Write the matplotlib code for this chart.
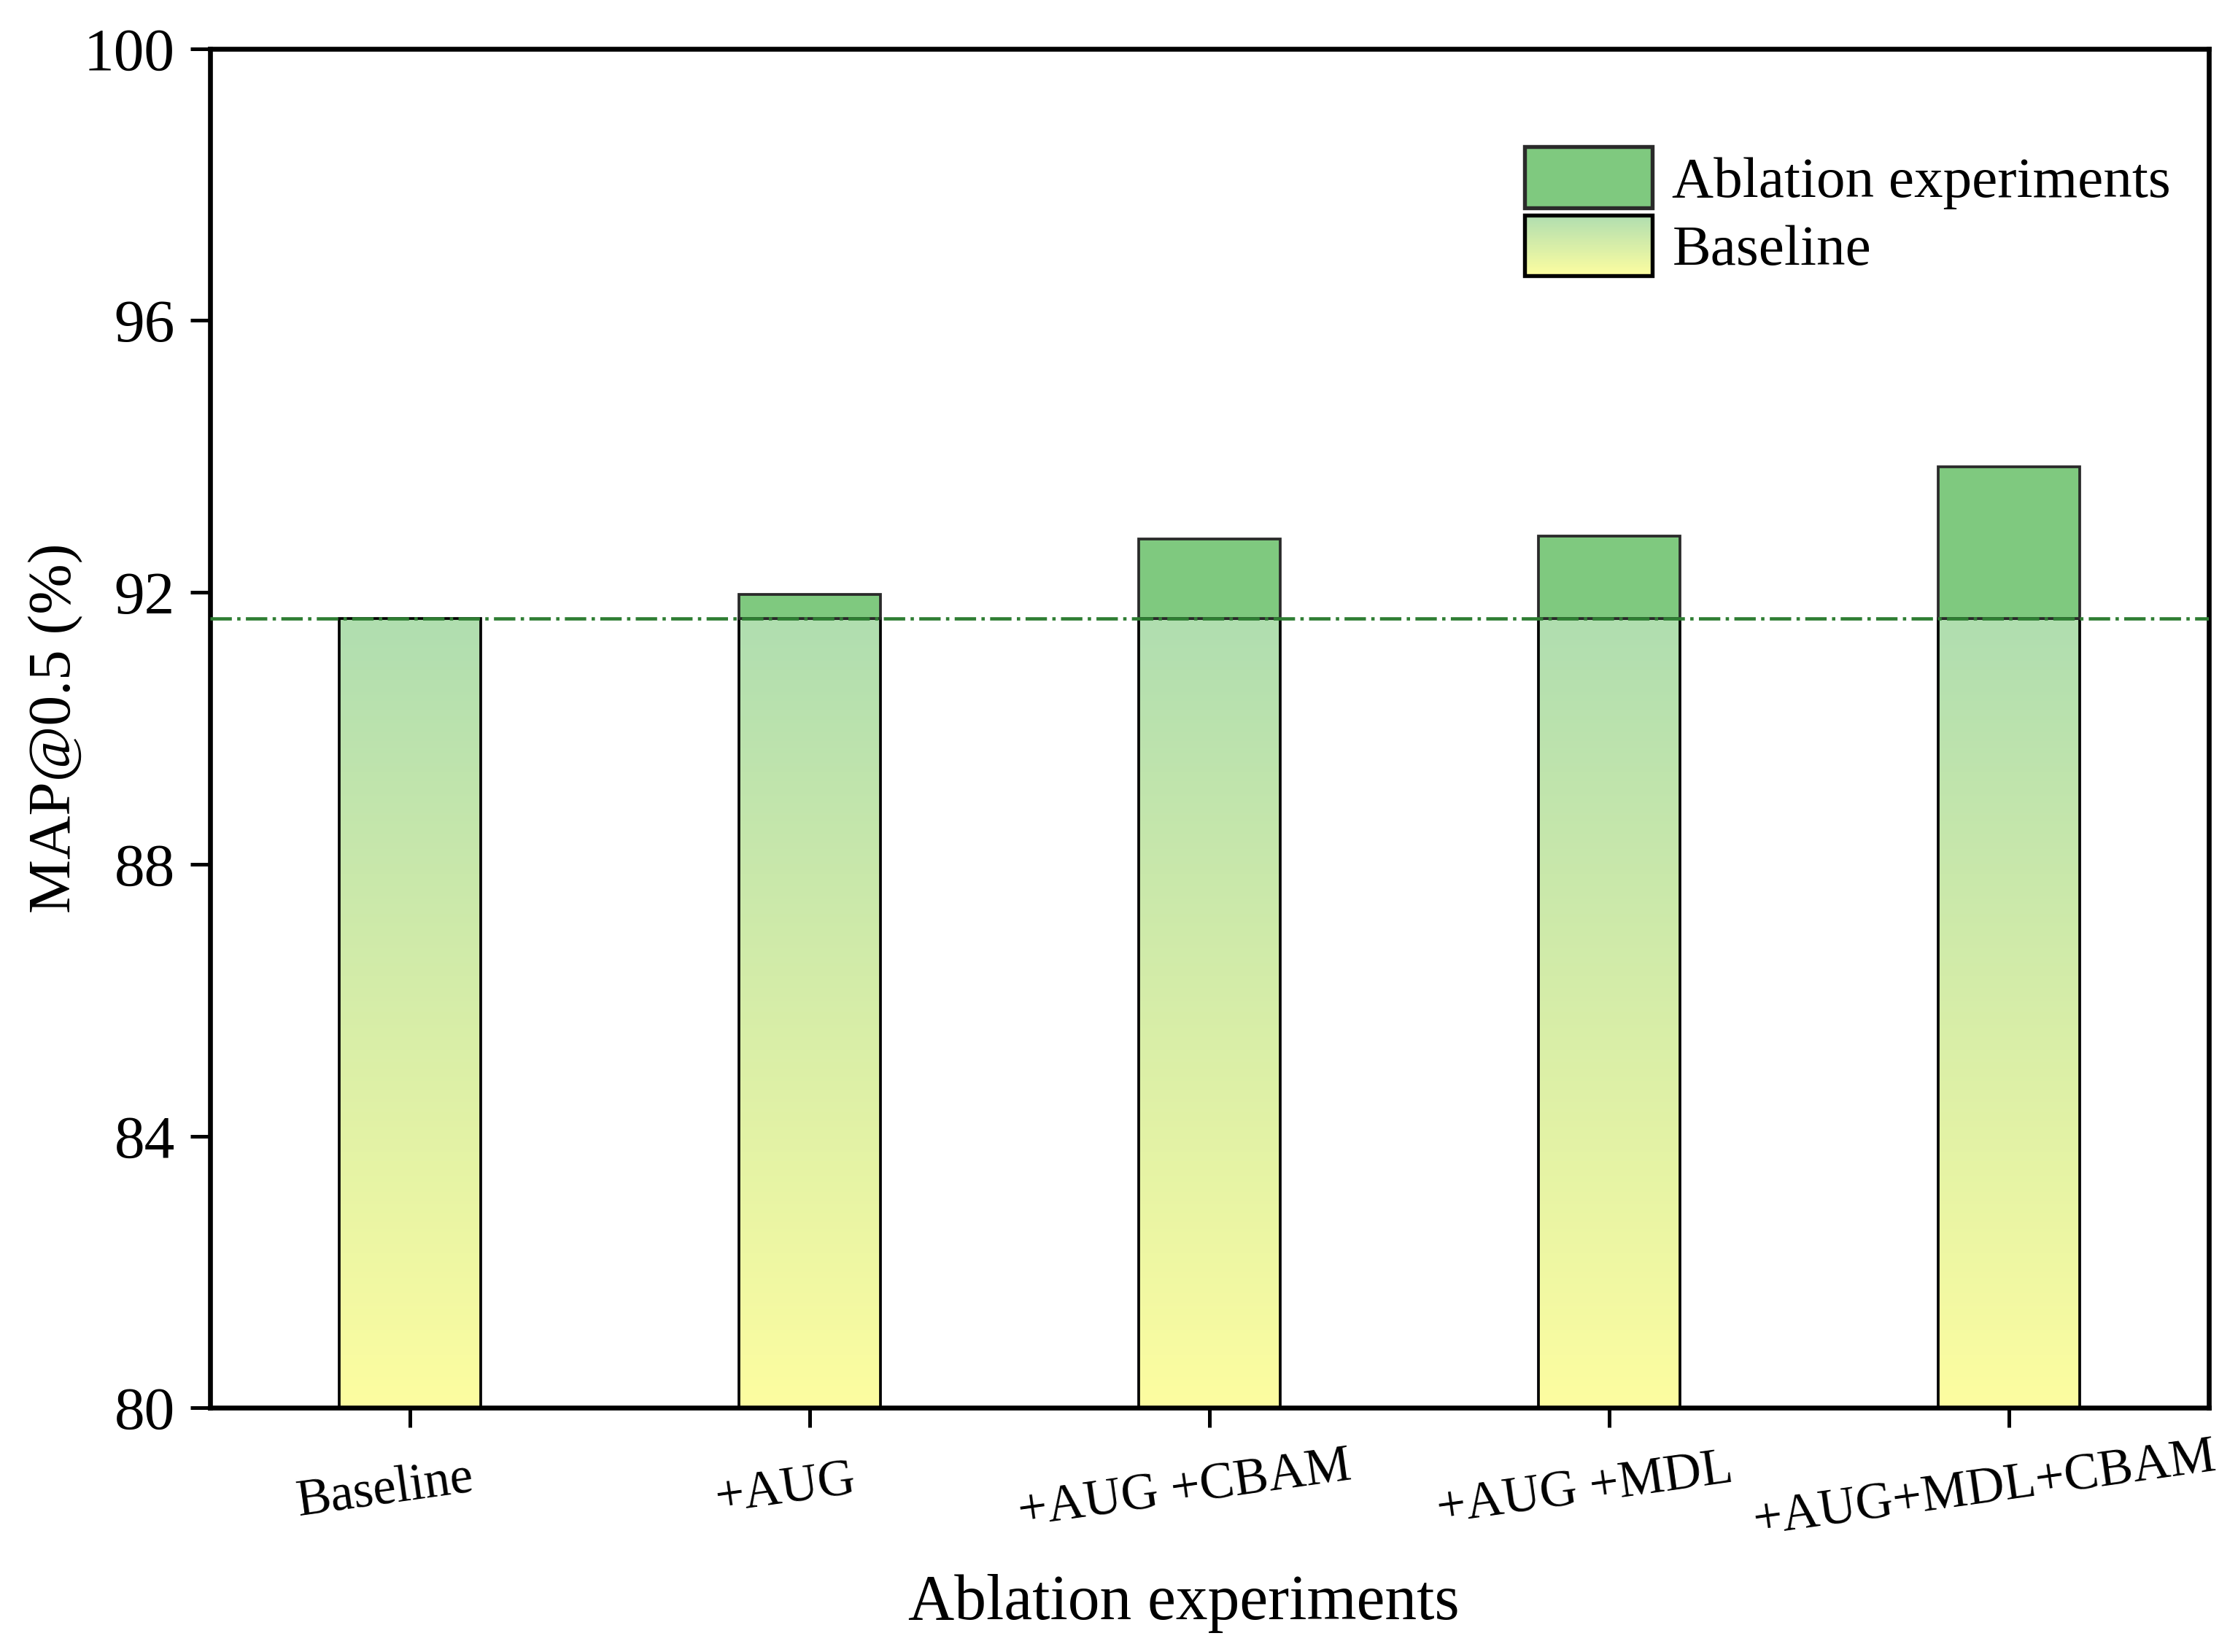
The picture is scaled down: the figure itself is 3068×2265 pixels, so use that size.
import matplotlib.pyplot as plt
import numpy as np
from matplotlib.legend_handler import HandlerBase
from matplotlib.patches import Rectangle
from matplotlib.colors import LinearSegmentedColormap
from matplotlib.transforms import ScaledTranslation, blended_transform_factory

plt.rcParams['font.family'] = ['Liberation Serif', 'DejaVu Serif']

# data
categories = ['Baseline', '+AUG', '+AUG +CBAM', '+AUG +MDL', '+AUG+MDL+CBAM']
map50 = [91.62, 91.97, 92.79, 92.83, 93.85]
baseline_value = 91.62
y_ticks = [80, 84, 88, 92, 96, 100]

green = '#7FC97F'
grad_cmap = LinearSegmentedColormap.from_list('yg', ['#FDFDA0', '#B0DEB0'])
edge = '#2a2a2a'


class GradientHandler(HandlerBase):
    # legend patch with the same yellow->green ramp as the bars
    def create_artists(self, legend, orig_handle, xdescent, ydescent,
                       width, height, fontsize, trans):
        arts = []
        n = 40
        for i in range(n):
            r = Rectangle((-xdescent, -ydescent + height * i / n), width, height / n + 0.3,
                          facecolor=grad_cmap(i / (n - 1)), edgecolor='none',
                          transform=trans)
            arts.append(r)
        arts.append(Rectangle((-xdescent, -ydescent), width, height, facecolor='none',
                              edgecolor='black', lw=1.3, transform=trans))
        return arts


fig = plt.figure(figsize=(3068 / 300, 2265 / 300), dpi=300)
ax = fig.add_axes([0.0938, 0.1477, 0.8932, 0.8229])

x = np.arange(len(categories))
w = 0.354
grad = np.linspace(1, 0, 256).reshape(-1, 1)

for xi, v in zip(x, map50):
    top = min(v, baseline_value)
    ax.imshow(grad, cmap=grad_cmap, extent=[xi - w / 2, xi + w / 2, 80, top],
              aspect='auto', origin='upper', zorder=2)
    ax.bar(xi, top - 80, w, bottom=80, facecolor='none', edgecolor='black', lw=0.9, zorder=3)
    if v > baseline_value:
        ax.bar(xi, v - baseline_value, w, bottom=baseline_value, color=green,
               edgecolor=edge, lw=0.9, zorder=3)

ax.axhline(baseline_value, color='#2E7D32', ls='-.', lw=1.1, zorder=4)

ax.set_xlim(-0.5, 4.5)
ax.set_ylim(80, 100)
ax.set_yticks(y_ticks)
ax.set_xticks(x)
ax.set_xticklabels([])
# category labels sit a little left of their ticks, slightly tilted
lab_trans = blended_transform_factory(ax.transData, ax.transAxes) + \
    ScaledTranslation(-8 / 72, -27 / 72, fig.dpi_scale_trans)
for xi, c in zip(x, categories):
    ax.text(xi, 0, c, transform=lab_trans, rotation=8, fontsize=17,
            ha='center', va='center')
ax.tick_params(axis='y', labelsize=20, length=6.5, width=1.2, direction='out', pad=5)
ax.tick_params(axis='x', length=6.5, width=1.2, direction='out', pad=8)
for s in ax.spines.values():
    s.set_linewidth(1.6)

ax.set_ylabel('MAP@0.5 (%)', fontsize=20, labelpad=0)
ax.set_xlabel('Ablation experiments', fontsize=21)
ax.xaxis.set_label_coords(0.487, -0.122)

h1 = Rectangle((0, 0), 1, 1, facecolor=green, edgecolor=edge, lw=1.3)
h2 = Rectangle((0, 0), 1, 1)
ax.legend([h1, h2], ['Ablation experiments', 'Baseline'],
          handler_map={h2: GradientHandler()},
          loc='upper right', bbox_to_anchor=(1.007, 0.966), frameon=False,
          fontsize=19, handlelength=2.2, handleheight=1.25,
          labelspacing=0.1, handletextpad=0.35)

fig.savefig('out.png', dpi=300)
